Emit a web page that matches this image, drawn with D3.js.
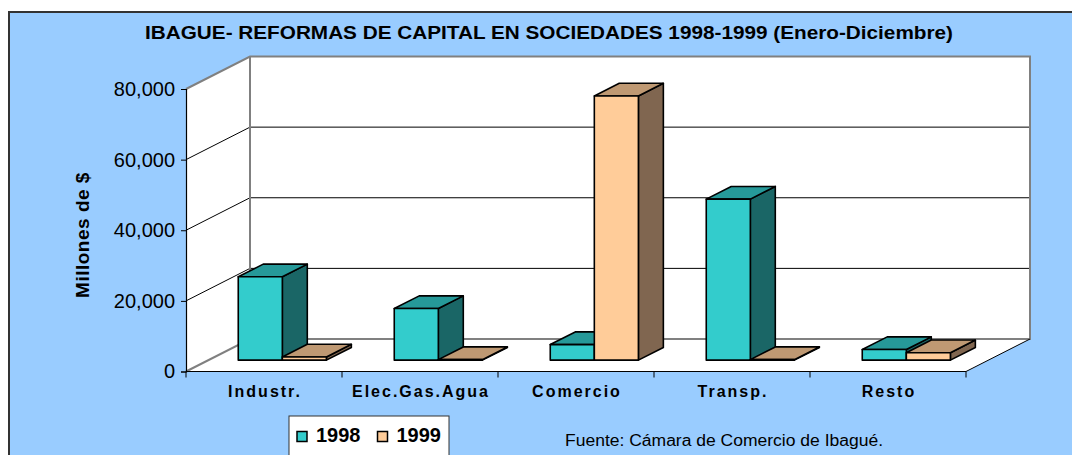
<!DOCTYPE html>
<html>
<head>
<meta charset="utf-8">
<script src="https://cdn.jsdelivr.net/npm/d3@7"></script>
<style>
  body { margin: 0; background: #fff; }
  svg text { font-family: Arial, "Liberation Sans", sans-serif; }
</style>
</head>
<body>
<script>
// data
var categories = ['Industr.', 'Elec.Gas.Agua', 'Comercio', 'Transp.', 'Resto'];
var series = ['1998', '1999'];
var values1998 = [23600, 14600, 4400, 45600, 3000];
var values1999 = [900, 150, 74800, 150, 2100];
var yTicks = [0, 20000, 40000, 60000, 80000];

var colors = {
    '1998': { front: '#33CCCC', top: '#269999', side: '#1A6666' },
    '1999': { front: '#FFCC99', top: '#BF9973', side: '#806650' }
};

var svg = d3.select('body').append('svg')
    .attr('width', 1072)
    .attr('height', 455);

// outer chart area
svg.append('rect')
    .attr('x', 9)
    .attr('y', 12)
    .attr('width', 1080)
    .attr('height', 460)
    .attr('fill', '#99CCFF')
    .attr('stroke', '#333')
    .attr('stroke-width', 2);

// 3d frame
var DX = 64, DY = 32.5;
var x = d3.scaleBand().domain(categories).range([186, 966]);
var y = d3.scaleLinear().domain([0, 80000]).range([371.5, 89]);
var sub = d3.scaleBand().domain(series).range([0, x.bandwidth()])
    .paddingInner(0).paddingOuter(0.77).align(0.44);

function P(px, v, z) {
    return [px + z * DX, y(v) - z * DY];
}
var line = d3.line();
var x0 = 186, x1 = 966;

// back wall
svg.append('path')
    .attr('d', line([P(x0, 80000, 1), P(x1, 80000, 1), P(x1, 0, 1), P(x0, 0, 1)]) + 'Z')
    .attr('fill', '#fff');
// left wall
svg.append('path')
    .attr('d', line([P(x0, 80000, 0), P(x0, 80000, 1), P(x0, 0, 1), P(x0, 0, 0)]) + 'Z')
    .attr('fill', '#fff');
// floor
svg.append('path')
    .attr('d', line([P(x0, 0, 0), P(x1, 0, 0), P(x1, 0, 1), P(x0, 0, 1)]) + 'Z')
    .attr('fill', '#fff');

// gridlines
yTicks.filter(function (d) { return d > 0 && d < 80000; }).forEach(function (d) {
    svg.append('path')
        .attr('d', line([P(x0, d, 0), P(x0, d, 1), P(x1, d, 1)]))
        .attr('fill', 'none')
        .attr('stroke', '#000')
        .attr('stroke-width', 1);
});

// wall edges (gray)
svg.append('path')
    .attr('d', line([P(x0, 80000, 0), P(x0, 80000, 1), P(x1, 80000, 1), P(x1, 0, 1), P(x0, 0, 1), P(x0, 0, 0)]))
    .attr('fill', 'none')
    .attr('stroke', '#808080')
    .attr('stroke-width', 2);
svg.append('path')
    .attr('d', line([P(x0, 80000, 1), P(x0, 0, 1)]))
    .attr('fill', 'none')
    .attr('stroke', '#808080')
    .attr('stroke-width', 2);
// floor right edge
svg.append('path')
    .attr('d', line([P(x1, 0, 0), P(x1, 0, 1)]))
    .attr('fill', 'none')
    .attr('stroke', '#000')
    .attr('stroke-width', 1);

// bars
var z0 = 0.35, z1 = 0.74;
var bars = [];
categories.forEach(function (c, i) {
    bars.push({ cat: c, s: '1998', v: values1998[i] });
    bars.push({ cat: c, s: '1999', v: values1999[i] });
});

var barG = svg.append('g');
bars.forEach(function (b) {
    var bx = x(b.cat) + sub(b.s);
    var bw = sub.bandwidth();
    var col = colors[b.s];
    var g = barG.append('g')
        .attr('stroke', '#000')
        .attr('stroke-width', 1.6)
        .attr('stroke-linejoin', 'round');
    // side
    g.append('path')
        .attr('d', line([P(bx + bw, 0, z0), P(bx + bw, b.v, z0), P(bx + bw, b.v, z1), P(bx + bw, 0, z1)]) + 'Z')
        .attr('fill', col.side);
    // top
    g.append('path')
        .attr('d', line([P(bx, b.v, z0), P(bx + bw, b.v, z0), P(bx + bw, b.v, z1), P(bx, b.v, z1)]) + 'Z')
        .attr('fill', col.top);
    // front
    g.append('path')
        .attr('d', line([P(bx, 0, z0), P(bx + bw, 0, z0), P(bx + bw, b.v, z0), P(bx, b.v, z0)]) + 'Z')
        .attr('fill', col.front);
});

// y axis
var yAxis = svg.append('g')
    .attr('transform', 'translate(' + x0 + ',0)')
    .call(d3.axisLeft(y).tickValues(yTicks).tickSize(5).tickPadding(6).tickFormat(d3.format(',')));
yAxis.select('.domain').attr('stroke', '#000').attr('stroke-width', 1.2);
yAxis.selectAll('.tick line').attr('stroke', '#000');
yAxis.selectAll('.tick text')
    .attr('font-size', 20)
    .attr('fill', '#000')
    .style('font-family', 'Arial, "Liberation Sans", sans-serif');

// x axis
svg.append('line')
    .attr('x1', x0).attr('x2', x1)
    .attr('y1', y(0)).attr('y2', y(0))
    .attr('stroke', '#000')
    .attr('stroke-width', 1.2);
var boundaries = categories.map(function (c) { return x(c); }).concat([x1]);
svg.selectAll('.xtick')
    .data(boundaries)
    .enter().append('line')
    .attr('class', 'xtick')
    .attr('x1', function (d) { return d; })
    .attr('x2', function (d) { return d; })
    .attr('y1', y(0))
    .attr('y2', y(0) + 6)
    .attr('stroke', '#000');
svg.selectAll('.xlabel')
    .data(categories)
    .enter().append('text')
    .attr('class', 'xlabel')
    .attr('x', function (d) { return x(d) + x.bandwidth() / 2 + 1; })
    .attr('y', 397)
    .attr('text-anchor', 'middle')
    .attr('font-size', 16)
    .attr('font-weight', 'bold')
    .attr('letter-spacing', 2)
    .text(function (d) { return d; });

// y title
svg.append('text')
    .attr('transform', 'translate(89,235) rotate(-90)')
    .attr('text-anchor', 'middle')
    .attr('font-size', 19)
    .attr('font-weight', 'bold')
    .attr('letter-spacing', 0.5)
    .text('Millones de $');

// title
svg.append('text')
    .attr('x', 145)
    .attr('y', 39)
    .attr('textLength', 808)
    .attr('lengthAdjust', 'spacingAndGlyphs')
    .attr('font-size', 19)
    .attr('font-weight', 'bold')
    .text('IBAGUE- REFORMAS DE CAPITAL EN SOCIEDADES 1998-1999 (Enero-Diciembre)');

// legend
var legend = svg.append('g');
legend.append('rect')
    .attr('x', 289)
    .attr('y', 416)
    .attr('width', 160)
    .attr('height', 60)
    .attr('fill', '#fff')
    .attr('stroke', '#333')
    .attr('stroke-width', 1);
var legendX = [297, 377.5];
series.forEach(function (s, i) {
    legend.append('rect')
        .attr('x', legendX[i])
        .attr('y', 431.5)
        .attr('width', 10)
        .attr('height', 10)
        .attr('fill', colors[s].front)
        .attr('stroke', '#000')
        .attr('stroke-width', 1.5);
    legend.append('text')
        .attr('x', legendX[i] + 19)
        .attr('y', 442)
        .attr('font-size', 20)
        .attr('font-weight', 'bold')
        .text(s);
});

// source
svg.append('text')
    .attr('x', 565)
    .attr('y', 446)
    .attr('textLength', 318)
    .attr('lengthAdjust', 'spacingAndGlyphs')
    .attr('font-size', 16)
    .text('Fuente: Cámara de Comercio de Ibagué.');
</script>
</body>
</html>
